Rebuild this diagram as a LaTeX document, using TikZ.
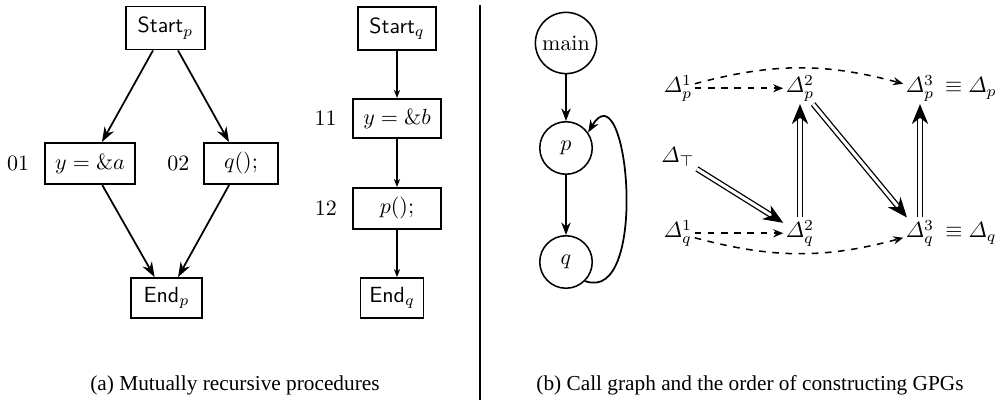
\documentclass[tikz,border=0pt]{standalone}
\usepackage{amsmath}
\usepackage{fontspec}
\newfontfamily\capfont{Liberation Serif}
\usetikzlibrary{arrows.meta,positioning}

\begin{document}
\begin{tikzpicture}[
  x=0.016cm, y=-0.016cm,
  every node/.style={inner sep=1pt},
  stmt/.style={draw, line width=0.8pt, minimum height=0.66cm, inner xsep=4pt},
  proc/.style={circle, draw, line width=0.7pt, minimum size=0.84cm, inner sep=1pt},
  flow/.style={draw, line width=0.8pt, -{Stealth[length=0.24cm, width=0.17cm]}},
  thinflow/.style={draw, line width=0.7pt, -{Stealth[length=0.13cm, width=0.1cm]}},
  call/.style={draw, line width=0.8pt, -{Stealth[length=0.2cm, width=0.15cm]}},
  order/.style={draw, dashed, line width=0.7pt, -{Stealth[length=0.16cm, width=0.13cm]}},
  dep/.style={draw, double, double distance=1.4pt, line width=0.6pt,
    -{Stealth[length=0.32cm, width=0.26cm, inset=0.1cm]}},
  captext/.style={font=\capfont\fontsize{9.7}{11}\selectfont}]

  \useasboundingbox (0,0) rectangle (1000,400);

  % ---- procedure p --------------------------------------------------------
  \node[stmt, minimum width=1.26cm, minimum height=0.69cm] (Sp) at (165.5,28) {\textsf{Start}$_p$};
  \node[stmt, minimum width=1.44cm] (Yp) at (90,163.5)  {$y = \&a$};
  \node[stmt, minimum width=1.18cm] (Qc) at (241,163.5) {$q()$;};
  \node[stmt, minimum width=1.14cm, minimum height=0.64cm] (Ep) at (166.5,298) {\textsf{End}$_p$};
  \node[left=0.2cm of Yp] (n01) {01};
  \node[left=0.18cm of Qc] (n02) {02};

  % ---- procedure q --------------------------------------------------------
  \node[stmt, minimum width=1.26cm, minimum height=0.69cm] (Sq) at (397,28.5) {\textsf{Start}$_q$};
  \node[stmt, minimum width=1.42cm, minimum height=0.63cm] (Yq) at (397,118.5) {$y = \&b$};
  \node[stmt, minimum width=1.41cm] (Pc) at (397,208.5) {$p()$;};
  \node[stmt, minimum width=0.96cm, minimum height=0.64cm] (Eq) at (392,298) {\textsf{End}$_q$};
  \node[left=0.2cm of Yq] (n11) {11};
  \node[left=0.2cm of Pc] (n12) {12};

  % ---- call graph ---------------------------------------------------------
  \node[proc, minimum size=0.98cm] (main) at (566,43)  {main};
  \node[proc] (P) at (566,148) {$p$};
  \node[proc] (Q) at (566,262) {$q$};

  % ---- GPG construction order ---------------------------------------------
  \node[anchor=base] (Dp1) at (678,93)  {$\varDelta^1_p$};
  \node[anchor=base] (Dp2) at (800,93)  {$\varDelta^2_p$};
  \node[anchor=base] (Dp3) at (920,93)  {$\varDelta^3_p$};
  \node[anchor=base] (Ep3) at (971,93)  {$\equiv \varDelta_p$};
  \node[anchor=base] (Dt)  at (678,163) {$\varDelta_\top$};
  \node[anchor=base] (Dq1) at (678,238) {$\varDelta^1_q$};
  \node[anchor=base] (Dq2) at (800,238) {$\varDelta^2_q$};
  \node[anchor=base] (Dq3) at (920,238) {$\varDelta^3_q$};
  \node[anchor=base] (Eq3) at (971,238) {$\equiv \varDelta_q$};

  % ---- edges --------------------------------------------------------------
  \draw[flow] (Sp) -- (Yp);
  \draw[flow] (Sp) -- (Qc);
  \draw[flow] (Yp) -- (Ep);
  \draw[flow] (Qc) -- (Ep);

  \draw[thinflow] (Sq) -- (Yq);
  \draw[thinflow] (Yq) -- (Pc);
  \draw[thinflow] (Pc) -- (Pc |- Eq.north);

  \draw[call] (main) -- (P);
  \draw[call] (P) -- (Q);
  \draw[call] (Q.-45) .. controls (650,305) and (628,65) .. (P.35);

  \draw[order] (Dp1.15) to[bend left=15] (Dp3.165);
  \draw[order] (Dp1) -- (Dp2);
  \draw[order] (Dq1) -- (Dq2);
  \draw[order] (Dq1.-15) to[bend right=15] (Dq3.195);

  \draw[dep] (Dt) -- (Dq2);
  \draw[dep] (Dq2) -- (Dp2);
  \draw[dep] (Dp2) -- (Dq3);
  \draw[dep] (Dq3) -- (Dp3);

  % ---- separator and captions ---------------------------------------------
  \coordinate (SepTop) at (480,5);
  \coordinate (SepBot) at (480,400);
  \draw[line width=0.7pt] (SepTop) -- (SepBot);
  \node[captext] (capA) at (235,385) {(a) Mutually recursive procedures};
  \node[captext] (capB) at (750,385) {(b) Call graph and the order of constructing GPGs};
\end{tikzpicture}
\end{document}
